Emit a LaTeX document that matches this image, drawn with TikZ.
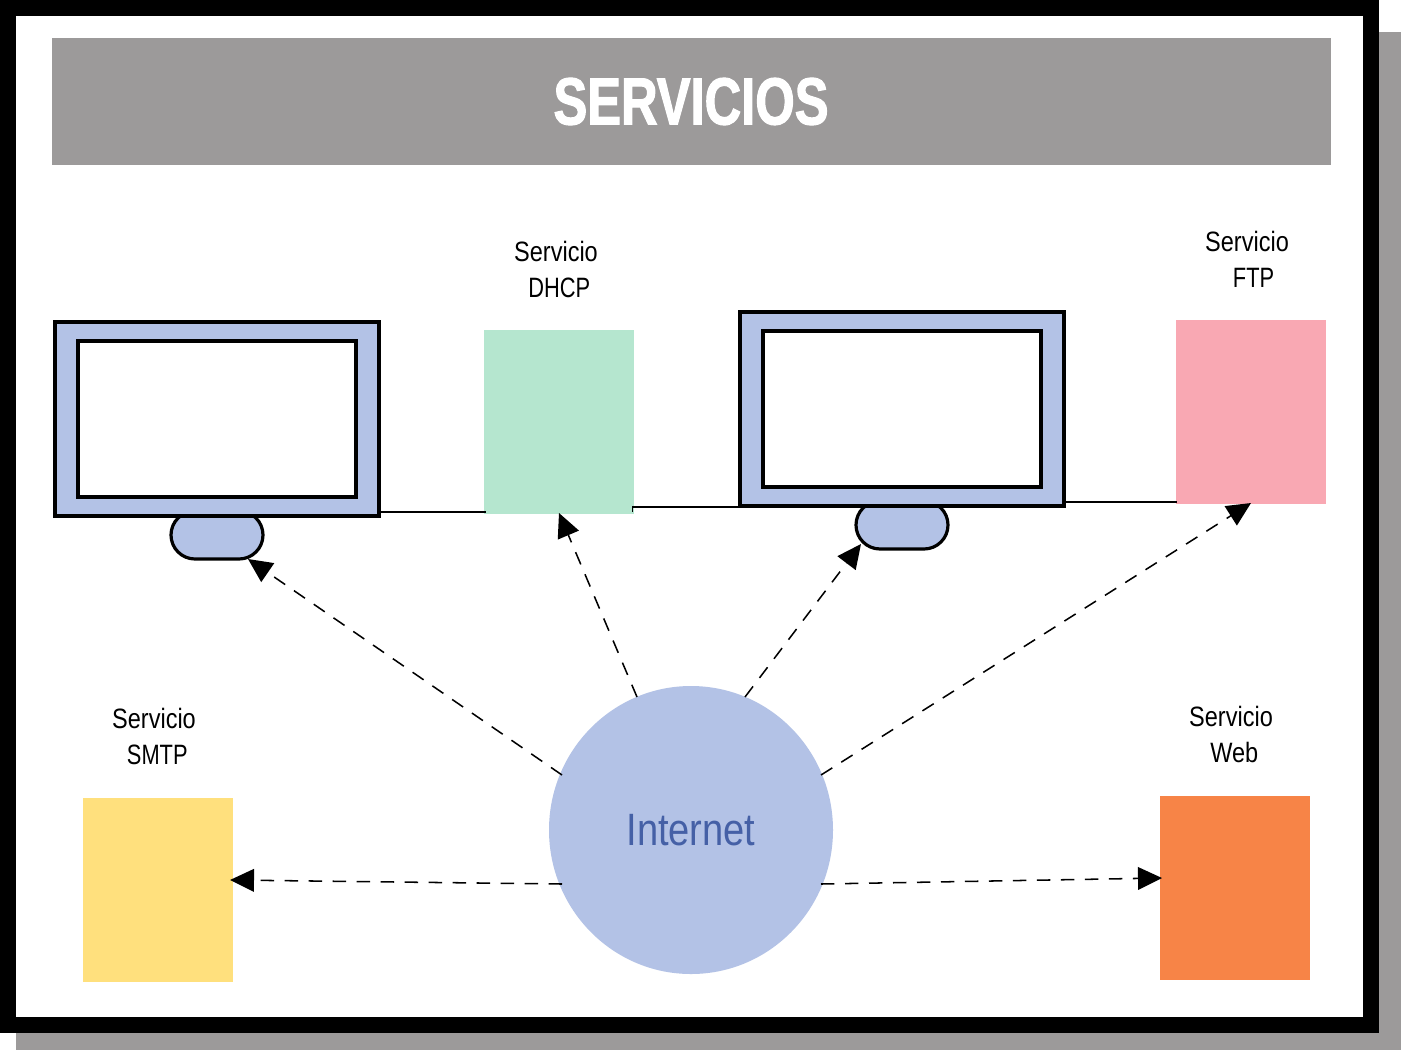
\documentclass[tikz,border=0pt]{standalone}
\usepackage{fontspec}
\setmainfont{Liberation Sans}[FakeStretch=0.84]
\newfontfamily\titlefont{Liberation Sans}[FakeStretch=0.76,BoldFeatures={FakeBold=1.6}]
\newfontfamily\capsfont{Liberation Sans}[FakeStretch=0.78]
\usetikzlibrary{arrows.meta,shapes.geometric}
\definecolor{shadowgray}{HTML}{9C9A9A}
\definecolor{screenblue}{HTML}{B3C2E6}
\definecolor{dhcpgreen}{HTML}{B5E6CF}
\definecolor{ftppink}{HTML}{F9A8B3}
\definecolor{smtpyellow}{HTML}{FFE07D}
\definecolor{weborange}{HTML}{F78447}
\definecolor{inettext}{HTML}{4560A6}
\tikzset{
    x=0.75pt, y=-0.75pt,
    service/.style={rectangle, minimum width=112.5pt, minimum height=137.5pt, inner sep=0pt},
    caption/.style={font=\fontsize{21pt}{26.75pt}\selectfont, align=center, inner sep=0pt},
    monitor/.style={rectangle, draw, line width=3pt, fill=screenblue, minimum width=243pt, minimum height=146pt},
    screen/.style={rectangle, draw, line width=3pt, fill=white, minimum width=209pt, minimum height=117pt},
    stand/.style={rectangle, draw, line width=2.4pt, rounded corners=18pt, fill=screenblue, minimum width=69pt, minimum height=36pt},
    link/.style={line width=1pt},
    arrow/.style={-{Triangle[length=18pt,width=17pt]}, line width=1.15pt, dash pattern=on 10pt off 8pt}
}
\begin{document}
\begin{tikzpicture}
\useasboundingbox (0,0) rectangle (1402,1050);

% frame and shadow
\fill[shadowgray] (16,32) rectangle (1401,1050);
\fill[black] (0,0) rectangle (1379,1033);
\fill[white] (16,16) rectangle (1363,1017);

% title
\node[rectangle, fill=shadowgray, minimum width=959.25pt, minimum height=95.75pt, inner sep=0pt, text=white, font=\fontsize{50pt}{50pt}\titlefont\bfseries] (title) at (691,101.5) {SERVICIOS};

% first computer
\node[stand] (baseA) at (217,535) {};
\node[monitor] (monitorA) at (217,419) {};
\node[screen] (screenA) at (217,419) {};

% second computer
\node[stand] (baseB) at (902,525) {};
\node[monitor] (monitorB) at (902,409) {};
\node[screen] (screenB) at (902,409) {};

% services
\node[service, fill=dhcpgreen] (dhcp) at (559,422) {};
\node[service, fill=ftppink] (ftp) at (1250.5,412) {};
\node[service, fill=smtpyellow] (smtp) at (157.5,890) {};
\node[service, fill=weborange] (web) at (1234.5,888) {};

% captions
\node[caption] (dhcplabel) at (556,269.5) {Servicio\\\ {\capsfont DHCP}};
\node[caption] (ftplabel) at (1247,259.5) {Servicio\\\ \ {\capsfont FTP}};
\node[caption] (smtplabel) at (154,736.5) {Servicio\\\ {\capsfont SMTP}};
\node[caption] (weblabel) at (1231,734.5) {Servicio\\\ Web};

% internet
\node[ellipse, fill=screenblue, minimum width=213pt, minimum height=216pt, inner sep=0pt, text=inettext, font=\fontsize{34pt}{34pt}\selectfont] (internet) at (691,830) {Internet};

% lines between machines
\draw[link] (monitorA.east |- 0,512) -- ([xshift=1.5pt]dhcp.west |- 0,512);
\draw[link] ([xshift=-1.5pt]dhcp.east |- 0,512) -- ([xshift=-1.5pt]dhcp.east |- 0,507) -- (monitorB.west |- 0,507);
\draw[link] (monitorB.east |- 0,502) -- ([xshift=1pt]ftp.west |- 0,502);

% arrows
\coordinate (fromA) at (562,775);
\coordinate (fromB) at (637,697);
\coordinate (fromC) at (745,697);
\coordinate (fromD) at (821,775);
\coordinate (fromE) at (562,884);
\coordinate (fromF) at (821,884);
\coordinate (toA) at (248,559);
\coordinate (toB) at (559,513);
\coordinate (toC) at (861,544);
\coordinate (toD) at (1251,503);
\coordinate (toE) at (230,880);
\coordinate (toF) at (1162,878);
\draw[arrow] (fromA) -- (toA);
\draw[arrow] (fromB) -- (toB);
\draw[arrow] (fromC) -- (toC);
\draw[arrow] (fromD) -- (toD);
\draw[arrow] (fromE) -- (toE);
\draw[arrow] (fromF) -- (toF);

\end{tikzpicture}
\end{document}
